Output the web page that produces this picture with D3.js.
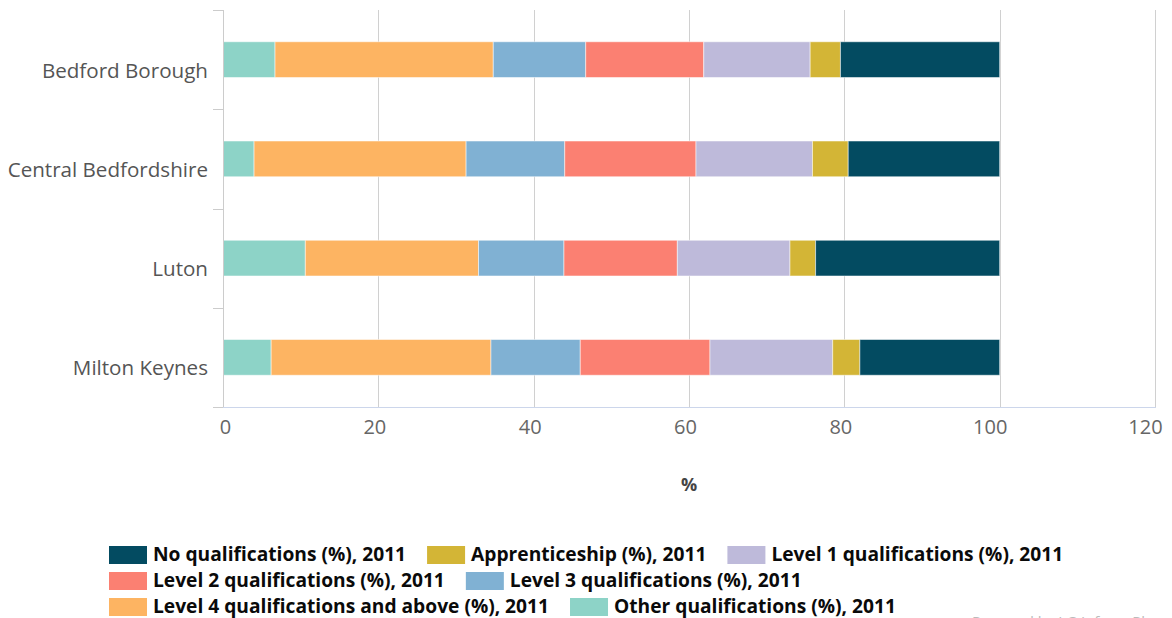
<!DOCTYPE html>
<html>
<head>
<meta charset="utf-8">
<script src="https://cdn.jsdelivr.net/npm/d3@7"></script>
<style>
  body { margin: 0; background: #fff; }
  svg { font-family: "Open Sans", sans-serif; }
</style>
</head>
<body>
<div id="chart"></div>
<script>
// areas, top to bottom
var areas = ["Bedford Borough", "Central Bedfordshire", "Luton", "Milton Keynes"]

// series in stacking order (left to right)
var seriesNames = [
    "Other qualifications (%), 2011",
    "Level 4 qualifications and above (%), 2011",
    "Level 3 qualifications (%), 2011",
    "Level 2 qualifications (%), 2011",
    "Level 1 qualifications (%), 2011",
    "Apprenticeship (%), 2011",
    "No qualifications (%), 2011"
]
var seriesColors = ["#8dd3c7", "#fdb462", "#80b1d3", "#fb8072", "#bebada", "#d3b536", "#034b61"]

var other = [6.7, 4.0, 10.6, 6.2]
var level4 = [28.1, 27.3, 22.3, 28.3]
var level3 = [11.9, 12.7, 11.0, 11.5]
var level2 = [15.2, 16.9, 14.6, 16.7]
var level1 = [13.7, 15.0, 14.5, 15.8]
var apprenticeship = [3.9, 4.6, 3.3, 3.5]
var noQuals = [20.5, 19.5, 23.7, 18.0]

var xTicks = [0, 20, 40, 60, 80, 100, 120]

// legend order
var legendOrder = [6, 5, 4, 3, 2, 1, 0]

var seriesValues = [other, level4, level3, level2, level1, apprenticeship, noQuals]

var width = 1172,
    height = 618,
    plotLeft = 223,
    plotRight = 1155,
    plotTop = 10,
    plotBottom = 407

var svg = d3.select("#chart")
    .append("svg")
    .attr("width", width)
    .attr("height", height)

var x = d3.scaleLinear().domain([0, 120]).range([plotLeft, plotRight])
var y = d3.scaleBand().domain(areas).range([plotTop, plotBottom]).paddingInner(0.64).paddingOuter(0.32)

// gridlines
svg.append("g")
    .selectAll("line")
    .data(xTicks.slice(1))
    .join("line")
    .attr("x1", d => Math.round(x(d)) + 0.5)
    .attr("x2", d => Math.round(x(d)) + 0.5)
    .attr("y1", plotTop)
    .attr("y2", plotBottom)
    .attr("stroke", "#d0d0d0")
    .attr("stroke-width", 1)

// stacked data
var rows = areas.map(function (a, i) {
    var r = { area: a }
    seriesNames.forEach(function (s, j) { r[s] = seriesValues[j][i] })
    return r
})
var stacked = d3.stack().keys(seriesNames)(rows)

svg.append("g")
    .selectAll("g")
    .data(stacked)
    .join("g")
    .attr("fill", (d, i) => seriesColors[i])
    .selectAll("rect")
    .data(d => d)
    .join("rect")
    .attr("x", d => x(d[0]))
    .attr("width", d => x(d[1]) - x(d[0]))
    .attr("y", d => y(d.data.area))
    .attr("height", y.bandwidth())
    .attr("stroke", "#ffffff")
    .attr("stroke-opacity", 0.5)
    .attr("stroke-width", 1)

// x axis (value axis)
var xAxis = svg.append("g")
    .attr("transform", "translate(0," + plotBottom + ")")
    .call(d3.axisBottom(x).tickValues(xTicks).tickSize(0).tickPadding(13))
xAxis.select(".domain").attr("stroke", "#ccd6eb").attr("d", "M" + plotLeft + ",0.5H" + (plotRight + 1))
xAxis.selectAll("text")
    .attr("font-size", 20)
    .attr("fill", "#666666")
    .attr("font-family", "Open Sans, sans-serif")
    .attr("dx", d => String(d).length == 1 ? 2 : String(d).length == 2 ? -4 : -10)

// y axis (category axis)
var bounds = [plotTop].concat(areas.map(a => y(a) + y.bandwidth() + y.step() * y.paddingInner() / 2))
bounds[bounds.length - 1] = plotBottom
svg.append("line")
    .attr("x1", plotLeft + 0.5).attr("x2", plotLeft + 0.5)
    .attr("y1", plotTop).attr("y2", plotBottom)
    .attr("stroke", "#cccccc")
svg.append("g")
    .selectAll("line")
    .data(bounds)
    .join("line")
    .attr("x1", plotLeft - 10)
    .attr("x2", plotLeft)
    .attr("y1", d => Math.round(d) + 0.5)
    .attr("y2", d => Math.round(d) + 0.5)
    .attr("stroke", "#cccccc")

svg.append("g")
    .selectAll("text")
    .data(areas)
    .join("text")
    .text(d => d)
    .attr("x", 208)
    .attr("y", d => y(d) + y.bandwidth() / 2 + 18)
    .attr("text-anchor", "end")
    .attr("font-size", 20.6)
    .attr("fill", "#555555")

// axis title
svg.append("text")
    .text("%")
    .attr("x", (plotLeft + plotRight) / 2)
    .attr("y", 491)
    .attr("text-anchor", "middle")
    .attr("font-size", 18)
    .attr("font-weight", "bold")
    .attr("fill", "#444444")

// legend
var legend = svg.append("g")
var lx = 109, ly = 546, maxX = 1100
legendOrder.forEach(function (j) {
    var item = legend.append("g")
    var t = item.append("text")
        .text(seriesNames[j])
        .attr("x", 44)
        .attr("y", 15)
        .attr("font-size", 19.2)
        .attr("font-weight", "bold")
        .attr("fill", "#0a0a0a")
    var w = 44 + t.node().getComputedTextLength()
    if (lx + w > maxX) { lx = 109; ly += 26 }
    item.attr("transform", "translate(" + lx + "," + ly + ")")
    item.insert("rect", "text")
        .attr("width", 38)
        .attr("height", 18)
        .attr("fill", seriesColors[j])
    lx += w + 21
})

// credit
svg.append("text")
    .text("Powered by LG Inform Plus")
    .attr("x", 972)
    .attr("y", 627)
    .attr("font-size", 15)
    .attr("fill", "#bbbbbb")
</script>
</body>
</html>
